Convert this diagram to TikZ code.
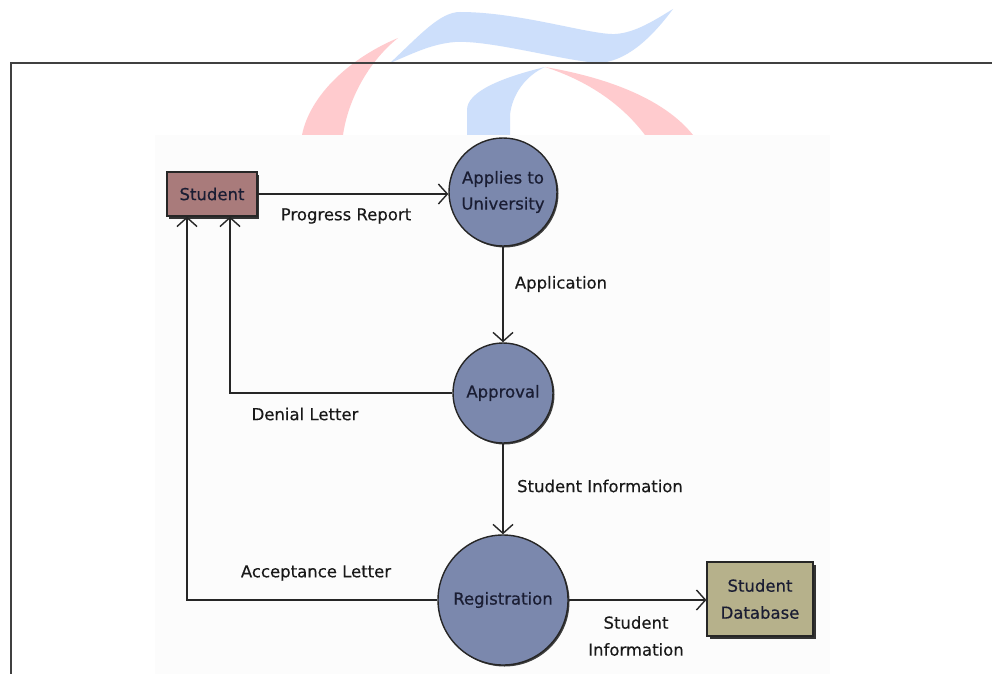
\documentclass[tikz,border=0pt]{standalone}
\usepackage{fontspec}
\setmainfont{DejaVu Sans}
\newfontfamily\nodefont[FakeBold=0.6]{DejaVu Sans}
\newfontfamily\labelfont[FakeBold=0.3]{DejaVu Sans}
\usetikzlibrary{arrows.meta,positioning,calc}

\definecolor{procfill}{HTML}{7B88AD}
\definecolor{entityfill}{HTML}{A97B7B}
\definecolor{storefill}{HTML}{B6B18B}
\definecolor{inktext}{HTML}{1A1D33}
\definecolor{linecol}{HTML}{262626}
\definecolor{logored}{HTML}{FFCBCE}
\definecolor{logoblue}{HTML}{CDDFFB}

\tikzset{
  process/.style={circle, draw=linecol, line width=1.4pt, fill=procfill,
    text=inktext, align=center, inner sep=0pt,
    font=\nodefont\fontsize{16.5}{26}\selectfont},
  procshadow/.style={circle, fill=black!75, inner sep=0pt},
  entity/.style={rectangle, draw=linecol, line width=1.2pt, align=center,
    text=inktext, inner sep=0pt, font=\nodefont\fontsize{16.5}{27}\selectfont},
  boxshadow/.style={rectangle, fill=black!80, inner sep=0pt},
  flow/.style={draw=linecol, line width=1.6pt,
    -{Straight Barb[length=9pt,width=20pt,line width=1.4pt]}},
  flowlabel/.style={text=black!90, align=center, inner sep=0pt,
    font=\labelfont\fontsize{16.5}{27}\selectfont}
}

\begin{document}
\begin{tikzpicture}[x=1pt,y=-1pt]
  \useasboundingbox (0,0) rectangle (992,674);
  \fill[white] (0,0) rectangle (992,674);

  % faded emblem behind the frame
  \fill[logored] (398,38) .. controls (350,58) and (310,95) .. (302,135)
    -- (343,135) .. controls (348,100) and (368,62) .. (398,38) -- cycle;
  \fill[logoblue] (390,63) .. controls (420,35) and (440,12) .. (460,12)
    .. controls (520,12) and (590,35) .. (615,34)
    .. controls (635,33) and (655,20) .. (673,9)
    .. controls (650,40) and (625,62) .. (598,63)
    .. controls (560,60) and (490,40) .. (455,42)
    .. controls (430,44) and (410,55) .. (390,63) -- cycle;
  \fill[logoblue] (545,67) .. controls (500,78) and (467,92) .. (467,110)
    -- (467,135) -- (510,135) -- (510,115)
    .. controls (512,95) and (525,76) .. (545,67) -- cycle;
  \fill[logored] (545,67) .. controls (610,78) and (665,100) .. (693,135)
    -- (645,135) .. controls (620,102) and (585,80) .. (545,67) -- cycle;

  % frame lines
  \draw[black!75, line width=1.6pt] (992,63) -- (11,63) -- (11,674);

  % diagram panel
  \fill[black!1] (155,135) rectangle (830,674);

  % shadows
  \node[boxshadow, minimum width=90pt, minimum height=44pt] at (214,197) {};
  \node[boxshadow, minimum width=106pt, minimum height=74pt] at (763,602) {};
  \node[procshadow, minimum size=108pt] at (504.5,193.5) {};
  \node[procshadow, minimum size=100pt] at (504.5,394.5) {};
  \node[procshadow, minimum size=130pt] at (504.5,601.5) {};

  % external entities and data store
  \node[entity, fill=entityfill, minimum width=90pt, minimum height=44pt]
    (student) at (212,194) {Student};
  \node[entity, fill=storefill, minimum width=106pt, minimum height=74pt]
    (db) at (760,599) {Student\\Database};

  % processes
  \node[process, minimum size=108pt] (apply) at (503,192) {Applies to\\University};
  \node[process, minimum size=100pt] (approve) at (503,393) {Approval};
  \node[process, minimum size=130pt] (register) at (503,600) {Registration};

  % data flows
  \draw[flow] (student.east) -- (student.east -| apply.west);
  \draw[flow] (apply.south) -- (approve.north);
  \draw[flow] (approve.south) -- (register.north);
  \draw[flow] (approve.west) -| ([xshift=18pt]student.south);
  \draw[flow] (register.west) -| ([xshift=-25pt]student.south);
  \draw[flow] (register.east) -- (register.east -| db.west);

  % flow labels
  \node[flowlabel] (lprog) at (346,216) {Progress Report};
  \node[flowlabel] (lappl) at (561,284) {Application};
  \node[flowlabel] (ldeny) at (305,414) {Denial Letter};
  \node[flowlabel] (linfo) at (600,486) {Student Information};
  \node[flowlabel] (lacc) at (316,573) {Acceptance Letter};
  \node[flowlabel] (lsto) at (636,636) {Student\\Information};
\end{tikzpicture}
\end{document}
